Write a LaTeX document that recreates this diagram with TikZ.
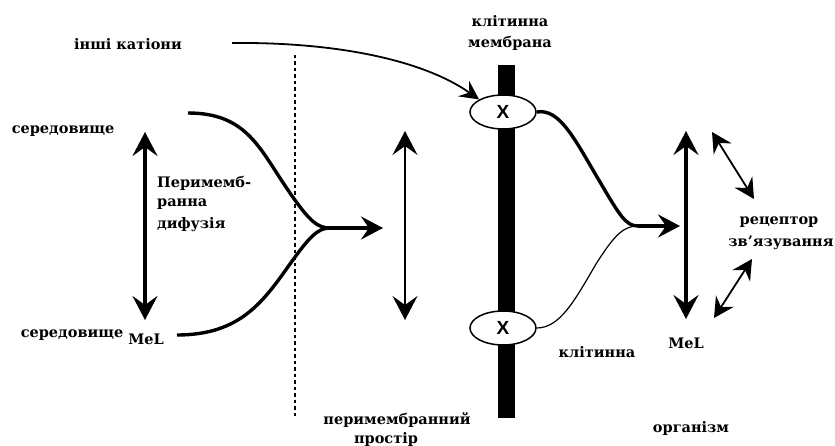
\documentclass[tikz,border=0pt]{standalone}
\usepackage{fontspec}
\setmainfont{DejaVu Serif}
\newfontfamily\xfont{Liberation Sans}
\usetikzlibrary{arrows.meta,shapes.geometric}
\tikzset{
  lbl/.style={font=\fontsize{14.5}{16}\selectfont\bfseries, inner sep=0pt},
  thickline/.style={line width=3.4pt},
  bigtip/.tip={Stealth[length=24pt,width=25pt,inset=9pt]},
  midtip/.tip={Stealth[length=22pt,width=23pt,inset=8pt]},
  diagtip/.tip={Stealth[length=20pt,width=21pt,inset=7pt]},
  xnode/.style={ellipse, draw, fill=white, line width=1.5pt, minimum width=66pt, minimum height=34pt, inner sep=0pt, font=\xfont\bfseries\fontsize{19}{19}\selectfont},
}
\begin{document}
\begin{tikzpicture}[x=1pt,y=-1pt]
\useasboundingbox (0,0) rectangle (835,446);
% labels
\node[lbl] (oth) at (128,44) {інші катіони};
\node[lbl] (mem1) at (510,21) {клітинна};
\node[lbl] (mem2) at (510,43) {мембрана};
\node[lbl] (env1) at (63,131) {середовище};
\node[lbl] (env2) at (72,335) {середовище};
\node[lbl] (mel1) at (146,339) {MeL};
\node[lbl, anchor=west] (pd1) at (157,183) {Перимемб-};
\node[lbl, anchor=west] (pd2) at (157,204) {ранна};
\node[lbl, anchor=west] (pd3) at (157,225) {дифузія};
\node[lbl] (ps1) at (397,420) {перимембранний};
\node[lbl] (ps2) at (386,439) {простір};
\node[lbl] (cell) at (597,352) {клітинна};
\node[lbl] (mel2) at (686,343) {MeL};
\node[lbl] (rec1) at (779,222) {рецептор};
\node[lbl] (rec2) at (781,243) {зв'язування};
\node[lbl] (org) at (691,428) {організм};
% dotted boundary
\coordinate (dtop) at (295,55);
\coordinate (dbot) at (295,418);
\draw[line width=2.2pt, dash pattern=on 3.5pt off 3pt] (dtop) -- (dbot);
% membrane
\node[fill=black, minimum width=17pt, minimum height=353pt, inner sep=0pt] (bar) at (506,241.5) {};
\node[xnode] (x1) at (503,112) {X};
\node[xnode] (x2) at (503,328) {X};
% other cations curve
\coordinate (oc) at (232,43);
\draw[line width=1.8pt, -{Stealth[length=19pt,width=19pt,inset=7pt]}] (oc) .. controls (330,42) and (420,58) .. (x1.north west);
% left converging curves
\coordinate (lt) at (188,113);
\coordinate (lb) at (177,335);
\coordinate (lm) at (330,228);
\coordinate (la) at (383,228);
\draw[thickline] (lt) .. controls (248,113) and (260,150) .. (290,193) .. controls (310,222) and (318,228) .. (lm);
\draw[thickline] (lb) .. controls (240,335) and (263,302) .. (290,264) .. controls (310,236) and (318,228) .. (lm);
\draw[thickline, -{midtip}] (lm) -- (la);
% left vertical double arrow
\coordinate (a1t) at (145,132);
\coordinate (a1b) at (145,320);
\draw[thickline, {bigtip}-{bigtip}] (a1t) -- (a1b);
% middle vertical double arrow
\coordinate (a2t) at (405,131);
\coordinate (a2b) at (405,320);
\draw[line width=1.7pt, {bigtip}-{bigtip}] (a2t) -- (a2b);
% right converging curves
\coordinate (rm) at (638,226);
\coordinate (ra) at (680,226);
\draw[thickline] (x1.east) .. controls (560,108) and (575,140) .. (600,182) .. controls (620,216) and (626,226) .. (rm);
\draw[line width=1.2pt] (x2.east) .. controls (560,328) and (575,300) .. (596,264) .. controls (615,234) and (624,226) .. (rm);
\draw[thickline, -{midtip}] (rm) -- (ra);
% right vertical double arrow
\coordinate (a3t) at (686,131);
\coordinate (a3b) at (686,319);
\draw[thickline, {bigtip}-{bigtip}] (a3t) -- (a3b);
% diagonal double arrows
\coordinate (d1a) at (712,132);
\coordinate (d1b) at (754,199);
\coordinate (d2a) at (714,318);
\coordinate (d2b) at (752,259);
\draw[line width=1.8pt, {diagtip}-{diagtip}] (d1a) -- (d1b);
\draw[line width=1.8pt, {diagtip}-{diagtip}] (d2a) -- (d2b);
\end{tikzpicture}
\end{document}
